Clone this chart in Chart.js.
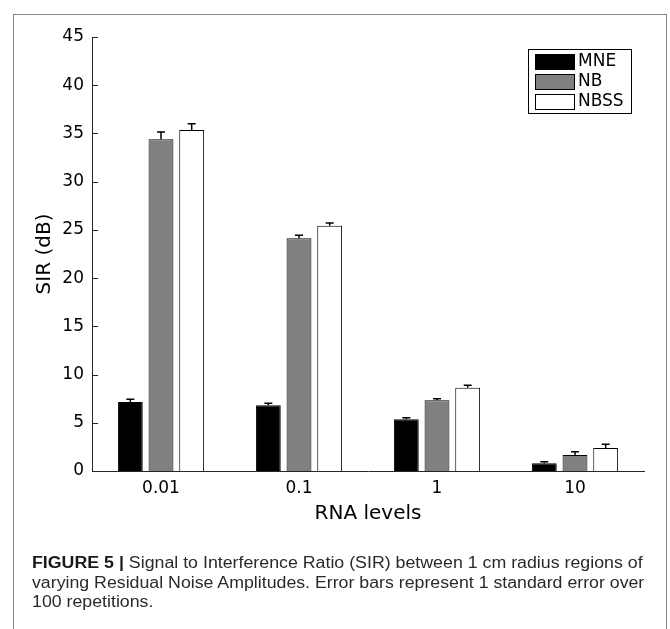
<!DOCTYPE html>
<html>
<head>
<meta charset="utf-8">
<script src="https://cdn.jsdelivr.net/npm/chart.js@4/dist/chart.umd.min.js"></script>
<style>
  html, body { margin: 0; padding: 0; background: #fff; }
  body { width: 670px; height: 629px; position: relative; overflow: hidden; }
  #frame { position: absolute; left: 13px; top: 14px; width: 654px; height: 700px; box-sizing: border-box;
           border: 1.5px solid #8a8a8a; border-bottom: none; }
  #c { position: absolute; left: 0; top: 0; }
  .cap { position: absolute; left: 32px; white-space: nowrap; font-family: "Liberation Sans Narrow", "Liberation Sans", Arial, sans-serif;
         font-size: 16px; line-height: 20px; color: #2a2a2a; transform-origin: 0 0; }
  .cap b { color: #1a1a1a; }
</style>
</head>
<body>
<div id="frame"></div>
<canvas id="c" width="670" height="629"></canvas>
<div class="cap" id="l1" style="top:553px"><b>FIGURE 5 |</b> Signal to Interference Ratio (SIR) between 1 cm radius regions of</div>
<div class="cap" id="l2" style="top:573px">varying Residual Noise Amplitudes. Error bars represent 1 standard error over</div>
<div class="cap" id="l3" style="top:592px">100 repetitions.</div>
<script>
// ---- data ----
const categories = ["0.01", "0.1", "1", "10"];
const seriesNames = ["MNE", "NB", "NBSS"];
const mneValues  = [7.15, 6.81, 5.36, 0.80];
const nbValues   = [34.39, 24.13, 7.33, 1.66];
const nbssValues = [35.36, 25.44, 8.64, 2.38];
const mneErrors  = [0.28, 0.21, 0.17, 0.16];
const nbErrors   = [0.76, 0.31, 0.17, 0.34];
const nbssErrors = [0.65, 0.28, 0.25, 0.39];
const yTicks = [0, 5, 10, 15, 20, 25, 30, 35, 40, 45];

const FONT = "'DejaVu Sans', sans-serif";
const AXIS_COLOR = '#262626';

const errorBars = {
  id: 'errorBars',
  afterDatasetsDraw(chart) {
    const ctx = chart.ctx;
    const y = chart.scales.y;
    ctx.save();
    ctx.strokeStyle = '#000';
    ctx.lineWidth = 1.5;
    chart.data.datasets.forEach((ds, i) => {
      const meta = chart.getDatasetMeta(i);
      meta.data.forEach((el, j) => {
        const top = y.getPixelForValue(ds.data[j] + ds.errors[j]);
        ctx.beginPath();
        ctx.moveTo(el.x, el.y);
        ctx.lineTo(el.x, top);
        ctx.moveTo(el.x - 4, top);
        ctx.lineTo(el.x + 4, top);
        ctx.stroke();
      });
    });
    ctx.restore();
  }
};

const innerTicks = {
  id: 'innerTicks',
  afterDraw(chart) {
    const ctx = chart.ctx;
    const y = chart.scales.y;
    const left = chart.chartArea.left;
    ctx.save();
    ctx.strokeStyle = AXIS_COLOR;
    ctx.lineWidth = 1;
    y.ticks.forEach(t => {
      const py = Math.round(y.getPixelForValue(t.value)) + 0.5;
      ctx.beginPath();
      ctx.moveTo(left, py);
      ctx.lineTo(left + 6, py);
      ctx.stroke();
    });
    ctx.restore();
  }
};

const boxLegend = {
  id: 'boxLegend',
  afterDraw(chart) {
    const ctx = chart.ctx;
    const bx = 528, by = 49, bw = 103, bh = 64;
    ctx.save();
    ctx.fillStyle = '#fff';
    ctx.fillRect(bx, by, bw, bh);
    ctx.strokeStyle = '#000';
    ctx.lineWidth = 1;
    ctx.strokeRect(bx + 0.5, by + 0.5, bw, bh);
    ctx.font = "17px " + FONT;
    ctx.textBaseline = 'middle';
    chart.data.datasets.forEach((ds, i) => {
      const sy = 54 + i * 20;
      ctx.fillStyle = ds.backgroundColor;
      ctx.fillRect(535, sy, 39, 15);
      ctx.strokeStyle = '#000';
      ctx.strokeRect(535.5, sy + 0.5, 39, 15);
      ctx.fillStyle = '#000';
      ctx.fillText(ds.label, 578, sy + 8);
    });
    ctx.restore();
  }
};

const mk = (label, data, errors, color) => ({
  label, data, errors,
  backgroundColor: color, borderColor: '#000', borderWidth: 1,
  categoryPercentage: 0.667, barPercentage: 0.81
});

new Chart(document.getElementById('c'), {
  type: 'bar',
  data: {
    labels: categories,
    datasets: [
      mk(seriesNames[0], mneValues, mneErrors, '#000000'),
      mk(seriesNames[1], nbValues, nbErrors, '#808080'),
      mk(seriesNames[2], nbssValues, nbssErrors, '#ffffff')
    ]
  },
  options: {
    responsive: false,
    animation: false,
    devicePixelRatio: 1,
    layout: { padding: { top: 37, left: 0, right: 26, bottom: 98 } },
    plugins: { legend: { display: false }, tooltip: { enabled: false } },
    scales: {
      x: {
        grid: { display: false, drawTicks: false },
        border: { display: true, color: AXIS_COLOR, width: 1 },
        ticks: { color: '#000', font: { family: FONT, size: 17 }, padding: 7, maxRotation: 0 },
        title: { display: true, text: 'RNA levels', color: '#000', font: { family: FONT, size: 20 }, padding: { top: 0, bottom: 5 } },
        afterFit(s) { s.height = 60; }
      },
      y: {
        min: 0, max: 45,
        afterBuildTicks(s) { s.ticks = yTicks.map(v => ({ value: v })); },
        grid: { display: false, drawTicks: false },
        border: { display: true, color: AXIS_COLOR, width: 1 },
        ticks: { color: '#000', font: { family: FONT, size: 17 }, padding: 8 },
        title: { display: true, text: 'SIR (dB)', color: '#000', font: { family: FONT, size: 20 }, padding: { top: 33, bottom: 0 } },
        afterFit(s) { s.width = 92; }
      }
    }
  },
  plugins: [errorBars, innerTicks, boxLegend]
});

// fit caption lines to the reference widths
(function () {
  const l1 = document.getElementById('l1'), l2 = document.getElementById('l2'), l3 = document.getElementById('l3');
  const s1 = 611 / l1.offsetWidth, s2 = 612 / l2.offsetWidth;
  l1.style.transform = 'scaleX(' + s1 + ')';
  l2.style.transform = 'scaleX(' + s2 + ')';
  l3.style.transform = 'scaleX(' + ((s1 + s2) / 2) + ')';
})();
</script>
</body>
</html>
